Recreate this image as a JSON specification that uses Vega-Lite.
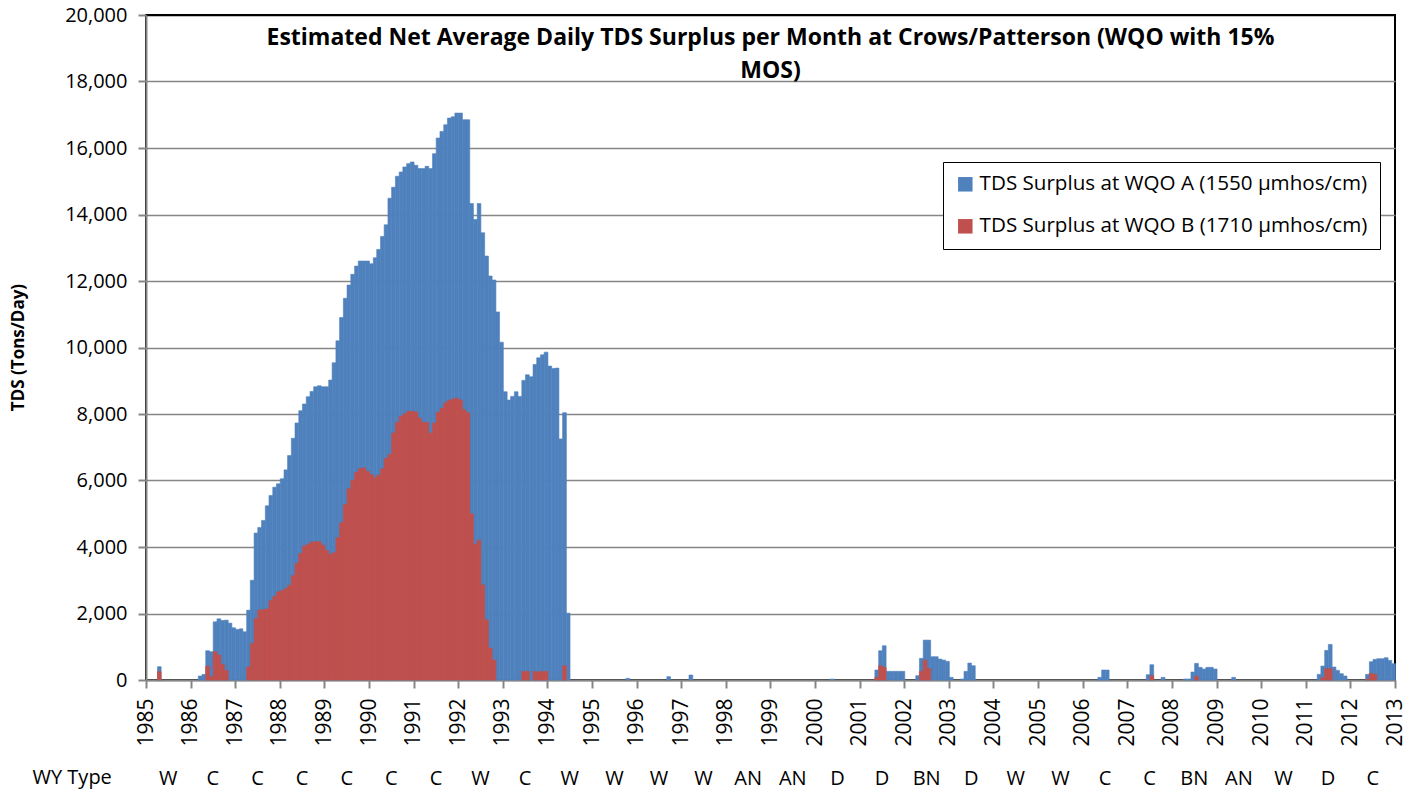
{
  "$schema": "https://vega.github.io/schema/vega-lite/v6.json",
  "width": 1249,
  "height": 665,
  "autosize": {"type": "none"},
  "padding": {"left": 146, "top": 15, "right": 23, "bottom": 112},
  "background": "white",
  "config": {
    "font": "Open Sans",
    "view": {"stroke": "black", "strokeWidth": 2}
  },
  "title": {
    "text": ["Estimated Net Average Daily TDS Surplus per Month at Crows/Patterson (WQO with 15%", "MOS)"],
    "anchor": "middle",
    "frame": "group",
    "font": "Open Sans",
    "fontSize": 23,
    "fontWeight": "bold",
    "color": "black",
    "lineHeight": 33,
    "offset": -78
  },
  "datasets": {
    "tds": [
      {"month": "1985-04-01", "A": 400, "B": 250},
      {"month": "1986-03-01", "A": 120},
      {"month": "1986-04-01", "A": 170},
      {"month": "1986-05-01", "A": 880, "B": 420},
      {"month": "1986-06-01", "A": 850, "B": 100},
      {"month": "1986-07-01", "A": 1750, "B": 850},
      {"month": "1986-08-01", "A": 1840, "B": 750},
      {"month": "1986-09-01", "A": 1790, "B": 470},
      {"month": "1986-10-01", "A": 1800, "B": 290},
      {"month": "1986-11-01", "A": 1710},
      {"month": "1986-12-01", "A": 1570},
      {"month": "1987-01-01", "A": 1520},
      {"month": "1987-02-01", "A": 1540},
      {"month": "1987-03-01", "A": 1450},
      {"month": "1987-04-01", "A": 2100, "B": 390},
      {"month": "1987-05-01", "A": 3000, "B": 1100},
      {"month": "1987-06-01", "A": 4420, "B": 1850},
      {"month": "1987-07-01", "A": 4590, "B": 2100},
      {"month": "1987-08-01", "A": 4800, "B": 2120},
      {"month": "1987-09-01", "A": 5240, "B": 2140},
      {"month": "1987-10-01", "A": 5550, "B": 2390},
      {"month": "1987-11-01", "A": 5800, "B": 2520},
      {"month": "1987-12-01", "A": 5900, "B": 2650},
      {"month": "1988-01-01", "A": 6050, "B": 2690},
      {"month": "1988-02-01", "A": 6320, "B": 2750},
      {"month": "1988-03-01", "A": 6750, "B": 2850},
      {"month": "1988-04-01", "A": 7270, "B": 3140},
      {"month": "1988-05-01", "A": 7730, "B": 3510},
      {"month": "1988-06-01", "A": 8100, "B": 3810},
      {"month": "1988-07-01", "A": 8300, "B": 4030},
      {"month": "1988-08-01", "A": 8520, "B": 4080},
      {"month": "1988-09-01", "A": 8680, "B": 4150},
      {"month": "1988-10-01", "A": 8820, "B": 4160},
      {"month": "1988-11-01", "A": 8850, "B": 4160},
      {"month": "1988-12-01", "A": 8820, "B": 4060},
      {"month": "1989-01-01", "A": 8820, "B": 3900},
      {"month": "1989-02-01", "A": 9020, "B": 3780},
      {"month": "1989-03-01", "A": 9540, "B": 3830},
      {"month": "1989-04-01", "A": 10200, "B": 4280},
      {"month": "1989-05-01", "A": 10900, "B": 4730},
      {"month": "1989-06-01", "A": 11480, "B": 5280},
      {"month": "1989-07-01", "A": 11880, "B": 5750},
      {"month": "1989-08-01", "A": 12200, "B": 6010},
      {"month": "1989-09-01", "A": 12450, "B": 6250},
      {"month": "1989-10-01", "A": 12600, "B": 6360},
      {"month": "1989-11-01", "A": 12600, "B": 6380},
      {"month": "1989-12-01", "A": 12600, "B": 6280},
      {"month": "1990-01-01", "A": 12520, "B": 6180},
      {"month": "1990-02-01", "A": 12700, "B": 6080},
      {"month": "1990-03-01", "A": 12950, "B": 6160},
      {"month": "1990-04-01", "A": 13340, "B": 6350},
      {"month": "1990-05-01", "A": 13690, "B": 6660},
      {"month": "1990-06-01", "A": 14490, "B": 6780},
      {"month": "1990-07-01", "A": 14820, "B": 7430},
      {"month": "1990-08-01", "A": 15150, "B": 7750},
      {"month": "1990-09-01", "A": 15280, "B": 7930},
      {"month": "1990-10-01", "A": 15430, "B": 8010},
      {"month": "1990-11-01", "A": 15530, "B": 8080},
      {"month": "1990-12-01", "A": 15580, "B": 8080},
      {"month": "1991-01-01", "A": 15480, "B": 8060},
      {"month": "1991-02-01", "A": 15380, "B": 7880},
      {"month": "1991-03-01", "A": 15380, "B": 7750},
      {"month": "1991-04-01", "A": 15450, "B": 7750},
      {"month": "1991-05-01", "A": 15380, "B": 7430},
      {"month": "1991-06-01", "A": 15830, "B": 7730},
      {"month": "1991-07-01", "A": 16300, "B": 8050},
      {"month": "1991-08-01", "A": 16500, "B": 8170},
      {"month": "1991-09-01", "A": 16700, "B": 8340},
      {"month": "1991-10-01", "A": 16900, "B": 8420},
      {"month": "1991-11-01", "A": 16940, "B": 8440},
      {"month": "1991-12-01", "A": 17050, "B": 8480},
      {"month": "1992-01-01", "A": 17050, "B": 8420},
      {"month": "1992-02-01", "A": 16850, "B": 8130},
      {"month": "1992-03-01", "A": 16850, "B": 8040},
      {"month": "1992-04-01", "A": 14330, "B": 5000},
      {"month": "1992-05-01", "A": 13850, "B": 4090},
      {"month": "1992-06-01", "A": 14330, "B": 4210},
      {"month": "1992-07-01", "A": 13450, "B": 2860},
      {"month": "1992-08-01", "A": 12750, "B": 1810},
      {"month": "1992-09-01", "A": 12150, "B": 960},
      {"month": "1992-10-01", "A": 12030, "B": 600},
      {"month": "1992-11-01", "A": 11070},
      {"month": "1992-12-01", "A": 10160},
      {"month": "1993-01-01", "A": 8670},
      {"month": "1993-02-01", "A": 8420},
      {"month": "1993-03-01", "A": 8530},
      {"month": "1993-04-01", "A": 8670},
      {"month": "1993-05-01", "A": 8530},
      {"month": "1993-06-01", "A": 9010, "B": 260},
      {"month": "1993-07-01", "A": 9180, "B": 260},
      {"month": "1993-08-01", "A": 9120},
      {"month": "1993-09-01", "A": 9490, "B": 260},
      {"month": "1993-10-01", "A": 9690, "B": 240},
      {"month": "1993-11-01", "A": 9780, "B": 260},
      {"month": "1993-12-01", "A": 9860, "B": 260},
      {"month": "1994-01-01", "A": 9440},
      {"month": "1994-02-01", "A": 9370},
      {"month": "1994-03-01", "A": 9380},
      {"month": "1994-04-01", "A": 7250},
      {"month": "1994-05-01", "A": 8040, "B": 430},
      {"month": "1994-06-01", "A": 2010},
      {"month": "1995-10-01", "A": 50},
      {"month": "1996-09-01", "A": 100},
      {"month": "1997-03-01", "A": 150},
      {"month": "2000-05-01", "A": 30},
      {"month": "2001-05-01", "A": 300, "B": 80},
      {"month": "2001-06-01", "A": 880, "B": 430},
      {"month": "2001-07-01", "A": 1030, "B": 380},
      {"month": "2001-08-01", "A": 260},
      {"month": "2001-09-01", "A": 260},
      {"month": "2001-10-01", "A": 260},
      {"month": "2001-11-01", "A": 260},
      {"month": "2001-12-01", "A": 260},
      {"month": "2002-04-01", "A": 130},
      {"month": "2002-05-01", "A": 650, "B": 260},
      {"month": "2002-06-01", "A": 1200, "B": 600},
      {"month": "2002-07-01", "A": 1200, "B": 350},
      {"month": "2002-08-01", "A": 700},
      {"month": "2002-09-01", "A": 700},
      {"month": "2002-10-01", "A": 630},
      {"month": "2002-11-01", "A": 600},
      {"month": "2002-12-01", "A": 560},
      {"month": "2003-01-01", "A": 80},
      {"month": "2003-04-01", "A": 30},
      {"month": "2003-05-01", "A": 260},
      {"month": "2003-06-01", "A": 510},
      {"month": "2003-07-01", "A": 430},
      {"month": "2006-05-01", "A": 80},
      {"month": "2006-06-01", "A": 300},
      {"month": "2006-07-01", "A": 300},
      {"month": "2007-06-01", "A": 160},
      {"month": "2007-07-01", "A": 460, "B": 130},
      {"month": "2007-10-01", "A": 80},
      {"month": "2008-04-01", "A": 30},
      {"month": "2008-05-01", "A": 30},
      {"month": "2008-06-01", "A": 240},
      {"month": "2008-07-01", "A": 500, "B": 110},
      {"month": "2008-08-01", "A": 380},
      {"month": "2008-09-01", "A": 330},
      {"month": "2008-10-01", "A": 380},
      {"month": "2008-11-01", "A": 380},
      {"month": "2008-12-01", "A": 330},
      {"month": "2009-05-01", "A": 80},
      {"month": "2011-04-01", "A": 170},
      {"month": "2011-05-01", "A": 420, "B": 70},
      {"month": "2011-06-01", "A": 890, "B": 340},
      {"month": "2011-07-01", "A": 1070, "B": 340},
      {"month": "2011-08-01", "A": 390},
      {"month": "2011-09-01", "A": 290},
      {"month": "2011-10-01", "A": 190},
      {"month": "2011-11-01", "A": 120},
      {"month": "2012-05-01", "A": 170, "B": 20},
      {"month": "2012-06-01", "A": 550, "B": 200},
      {"month": "2012-07-01", "A": 620, "B": 170},
      {"month": "2012-08-01", "A": 640},
      {"month": "2012-09-01", "A": 640},
      {"month": "2012-10-01", "A": 670},
      {"month": "2012-11-01", "A": 590},
      {"month": "2012-12-01", "A": 490}
    ],
    "wy": [
      {"slot": "1985|W"}, {"slot": "1986|C"}, {"slot": "1987|C"}, {"slot": "1988|C"},
      {"slot": "1989|C"}, {"slot": "1990|C"}, {"slot": "1991|C"}, {"slot": "1992|W"},
      {"slot": "1993|C"}, {"slot": "1994|W"}, {"slot": "1995|W"}, {"slot": "1996|W"},
      {"slot": "1997|W"}, {"slot": "1998|AN"}, {"slot": "1999|AN"}, {"slot": "2000|D"},
      {"slot": "2001|D"}, {"slot": "2002|BN"}, {"slot": "2003|D"}, {"slot": "2004|W"},
      {"slot": "2005|W"}, {"slot": "2006|C"}, {"slot": "2007|C"}, {"slot": "2008|BN"},
      {"slot": "2009|AN"}, {"slot": "2010|W"}, {"slot": "2011|D"}, {"slot": "2012|C"}
    ]
  },
  "layer": [
    {
      "data": {"name": "tds"},
      "encoding": {
        "x": {
          "field": "month",
          "timeUnit": "utcyearmonth",
          "type": "temporal",
          "scale": {"type": "utc", "domain": [{"year": 1985, "month": 1, "date": 1, "utc": true}, {"year": 2013, "month": 1, "date": 1, "utc": true}]},
          "axis": {
            "title": null,
            "format": "%Y",
            "tickCount": {"interval": "year", "step": 1},
            "labelAngle": -90,
            "labelFontSize": 21,
            "labelColor": "black",
            "labelPadding": 10,
            "labelOverlap": false,
            "labelFlush": false,
            "labelBound": false,
            "tickSize": 8,
            "tickWidth": 2,
            "tickColor": "#868686",
            "domainColor": "#868686",
            "domainWidth": 2,
            "grid": false
          }
        }
      },
      "layer": [
        {
          "mark": {"type": "bar", "binSpacing": 0, "stroke": "#4F81BD", "strokeWidth": 0.6},
          "encoding": {
            "y": {
              "field": "A",
              "type": "quantitative",
              "stack": null,
              "title": "TDS (Tons/Day)",
              "scale": {"domain": [0, 20000]},
              "axis": {
                "values": [0, 2000, 4000, 6000, 8000, 10000, 12000, 14000, 16000, 18000, 20000],
                "format": ",.0f",
                "labelFontSize": 20,
                "labelColor": "black",
                "labelPadding": 11,
                "tickSize": 8,
                "tickWidth": 2,
                "tickColor": "#868686",
                "domainColor": "#868686",
                "domainWidth": 2,
                "gridColor": {"condition": {"test": "datum.value === 20000", "value": "black"}, "value": "#868686"},
                "gridWidth": 1.5,
                "titleFontSize": 17,
                "titleFontWeight": "bold",
                "titleColor": "black",
                "titleAngle": -90,
                "titleX": -128,
                "titleY": 332,
                "titleAlign": "center",
                "titleBaseline": "middle"
              }
            },
            "color": {
              "datum": "TDS Surplus at WQO A (1550 µmhos/cm)",
              "type": "nominal",
              "scale": {
                "domain": ["TDS Surplus at WQO A (1550 µmhos/cm)", "TDS Surplus at WQO B (1710 µmhos/cm)"],
                "range": ["#4F81BD", "#C0504D"]
              },
              "legend": {
                "orient": "none",
                "legendX": 797,
                "legendY": 147,
                "title": null,
                "direction": "vertical",
                "symbolType": "square",
                "symbolSize": 210,
                "symbolStrokeWidth": 0,
                "symbolOpacity": 1,
                "labelFontSize": 20.6,
                "labelColor": "black",
                "labelLimit": 600,
                "labelOffset": 4,
                "padding": 12,
                "rowPadding": 21,
                "strokeColor": "black",
                "fillColor": "white"
              }
            }
          }
        },
        {
          "mark": {"type": "bar", "binSpacing": 0, "stroke": "#C0504D", "strokeWidth": 0.6},
          "encoding": {
            "y": {"field": "B", "type": "quantitative", "stack": null, "title": "TDS (Tons/Day)"},
            "color": {"datum": "TDS Surplus at WQO B (1710 µmhos/cm)", "type": "nominal"}
          }
        }
      ]
    },
    {
      "data": {"name": "wy"},
      "mark": {"type": "point", "opacity": 0},
      "encoding": {
        "x": {
          "field": "slot",
          "type": "ordinal",
          "sort": null,
          "scale": {"type": "band", "paddingInner": 0, "paddingOuter": 0},
          "axis": {
            "orient": "bottom",
            "offset": 84,
            "domain": false,
            "ticks": false,
            "tickSize": 0,
            "grid": false,
            "labelAngle": 0,
            "labelPadding": 4,
            "labelFontSize": 20,
            "labelColor": "black",
            "labelOverlap": false,
            "labelExpr": "split(datum.label, '|')[1]",
            "title": "WY Type",
            "titleFontSize": 20,
            "titleFontWeight": "normal",
            "titleColor": "black",
            "titleAlign": "left",
            "titleBaseline": "middle",
            "titleAngle": 0,
            "titleX": -114,
            "titleY": 13
          }
        }
      }
    }
  ],
  "resolve": {"scale": {"x": "independent"}, "axis": {"x": "independent"}}
}
